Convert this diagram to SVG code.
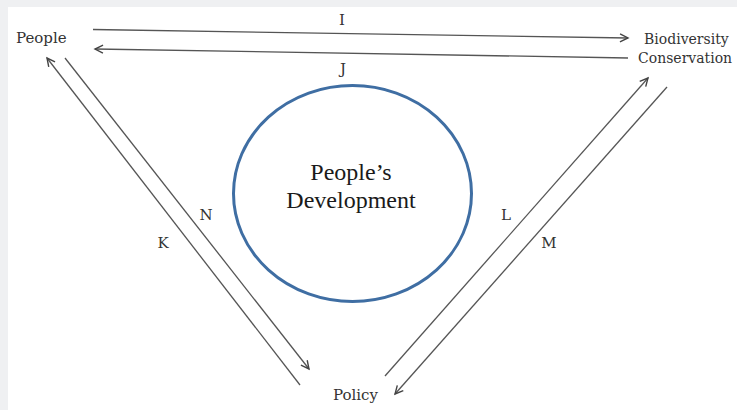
<svg xmlns="http://www.w3.org/2000/svg" width="737" height="410" viewBox="0 0 737 410">
<defs>
<marker id="arr" markerWidth="12" markerHeight="12" refX="9" refY="5" orient="auto" markerUnits="userSpaceOnUse">
<path d="M1,1 L9,5 L1,9" fill="none" stroke="#444" stroke-width="1.4"/>
</marker>
<style>
.lbl{font-family:"DejaVu Serif","Liberation Serif",serif;font-size:15px;fill:#333}
.sm{font-size:14px}
.ln{stroke:#555;stroke-width:1.3;fill:none}
.big{font-family:"Liberation Serif","Times New Roman",serif;font-size:24px;fill:#1a1a1a;text-anchor:middle}
</style>
</defs>
<rect x="0" y="0" width="737" height="410" fill="#ffffff"/>
<rect x="0" y="0" width="737" height="7" fill="#eff0f2"/>
<rect x="0" y="0" width="8" height="410" fill="#eff0f2"/>
<g id="people"><text class="lbl" x="16" y="43">People</text></g>
<g id="biodiversity"><text class="lbl sm" x="644" y="44">Biodiversity</text><text class="lbl sm" x="638" y="63">Conservation</text></g>
<g id="policy"><text class="lbl" x="333" y="400">Policy</text></g>
<g id="development">
<ellipse cx="352.5" cy="193.5" rx="119" ry="108" fill="none" stroke="#3f6ea3" stroke-width="3"/>
<text class="big" x="351" y="180">People’s</text>
<text class="big" x="351" y="208">Development</text>
</g>
<g id="connectors">
<line class="ln" x1="93" y1="29.5" x2="628" y2="38" marker-end="url(#arr)"/>
<line class="ln" x1="628" y1="58" x2="95" y2="49" marker-end="url(#arr)"/>
<line class="ln" x1="300" y1="385" x2="47" y2="58" marker-end="url(#arr)"/>
<line class="ln" x1="65" y1="58" x2="309" y2="369" marker-end="url(#arr)"/>
<line class="ln" x1="385" y1="376" x2="648" y2="78" marker-end="url(#arr)"/>
<line class="ln" x1="667" y1="87" x2="395" y2="394" marker-end="url(#arr)"/>
</g>
<g id="labels">
<text class="lbl" x="342" y="25" text-anchor="middle">I</text>
<text class="lbl" x="343" y="74" text-anchor="middle">J</text>
<text class="lbl" x="163" y="248" text-anchor="middle">K</text>
<text class="lbl" x="206" y="220" text-anchor="middle">N</text>
<text class="lbl" x="506" y="220" text-anchor="middle">L</text>
<text class="lbl" x="549" y="248" text-anchor="middle">M</text>
</g>
</svg>
